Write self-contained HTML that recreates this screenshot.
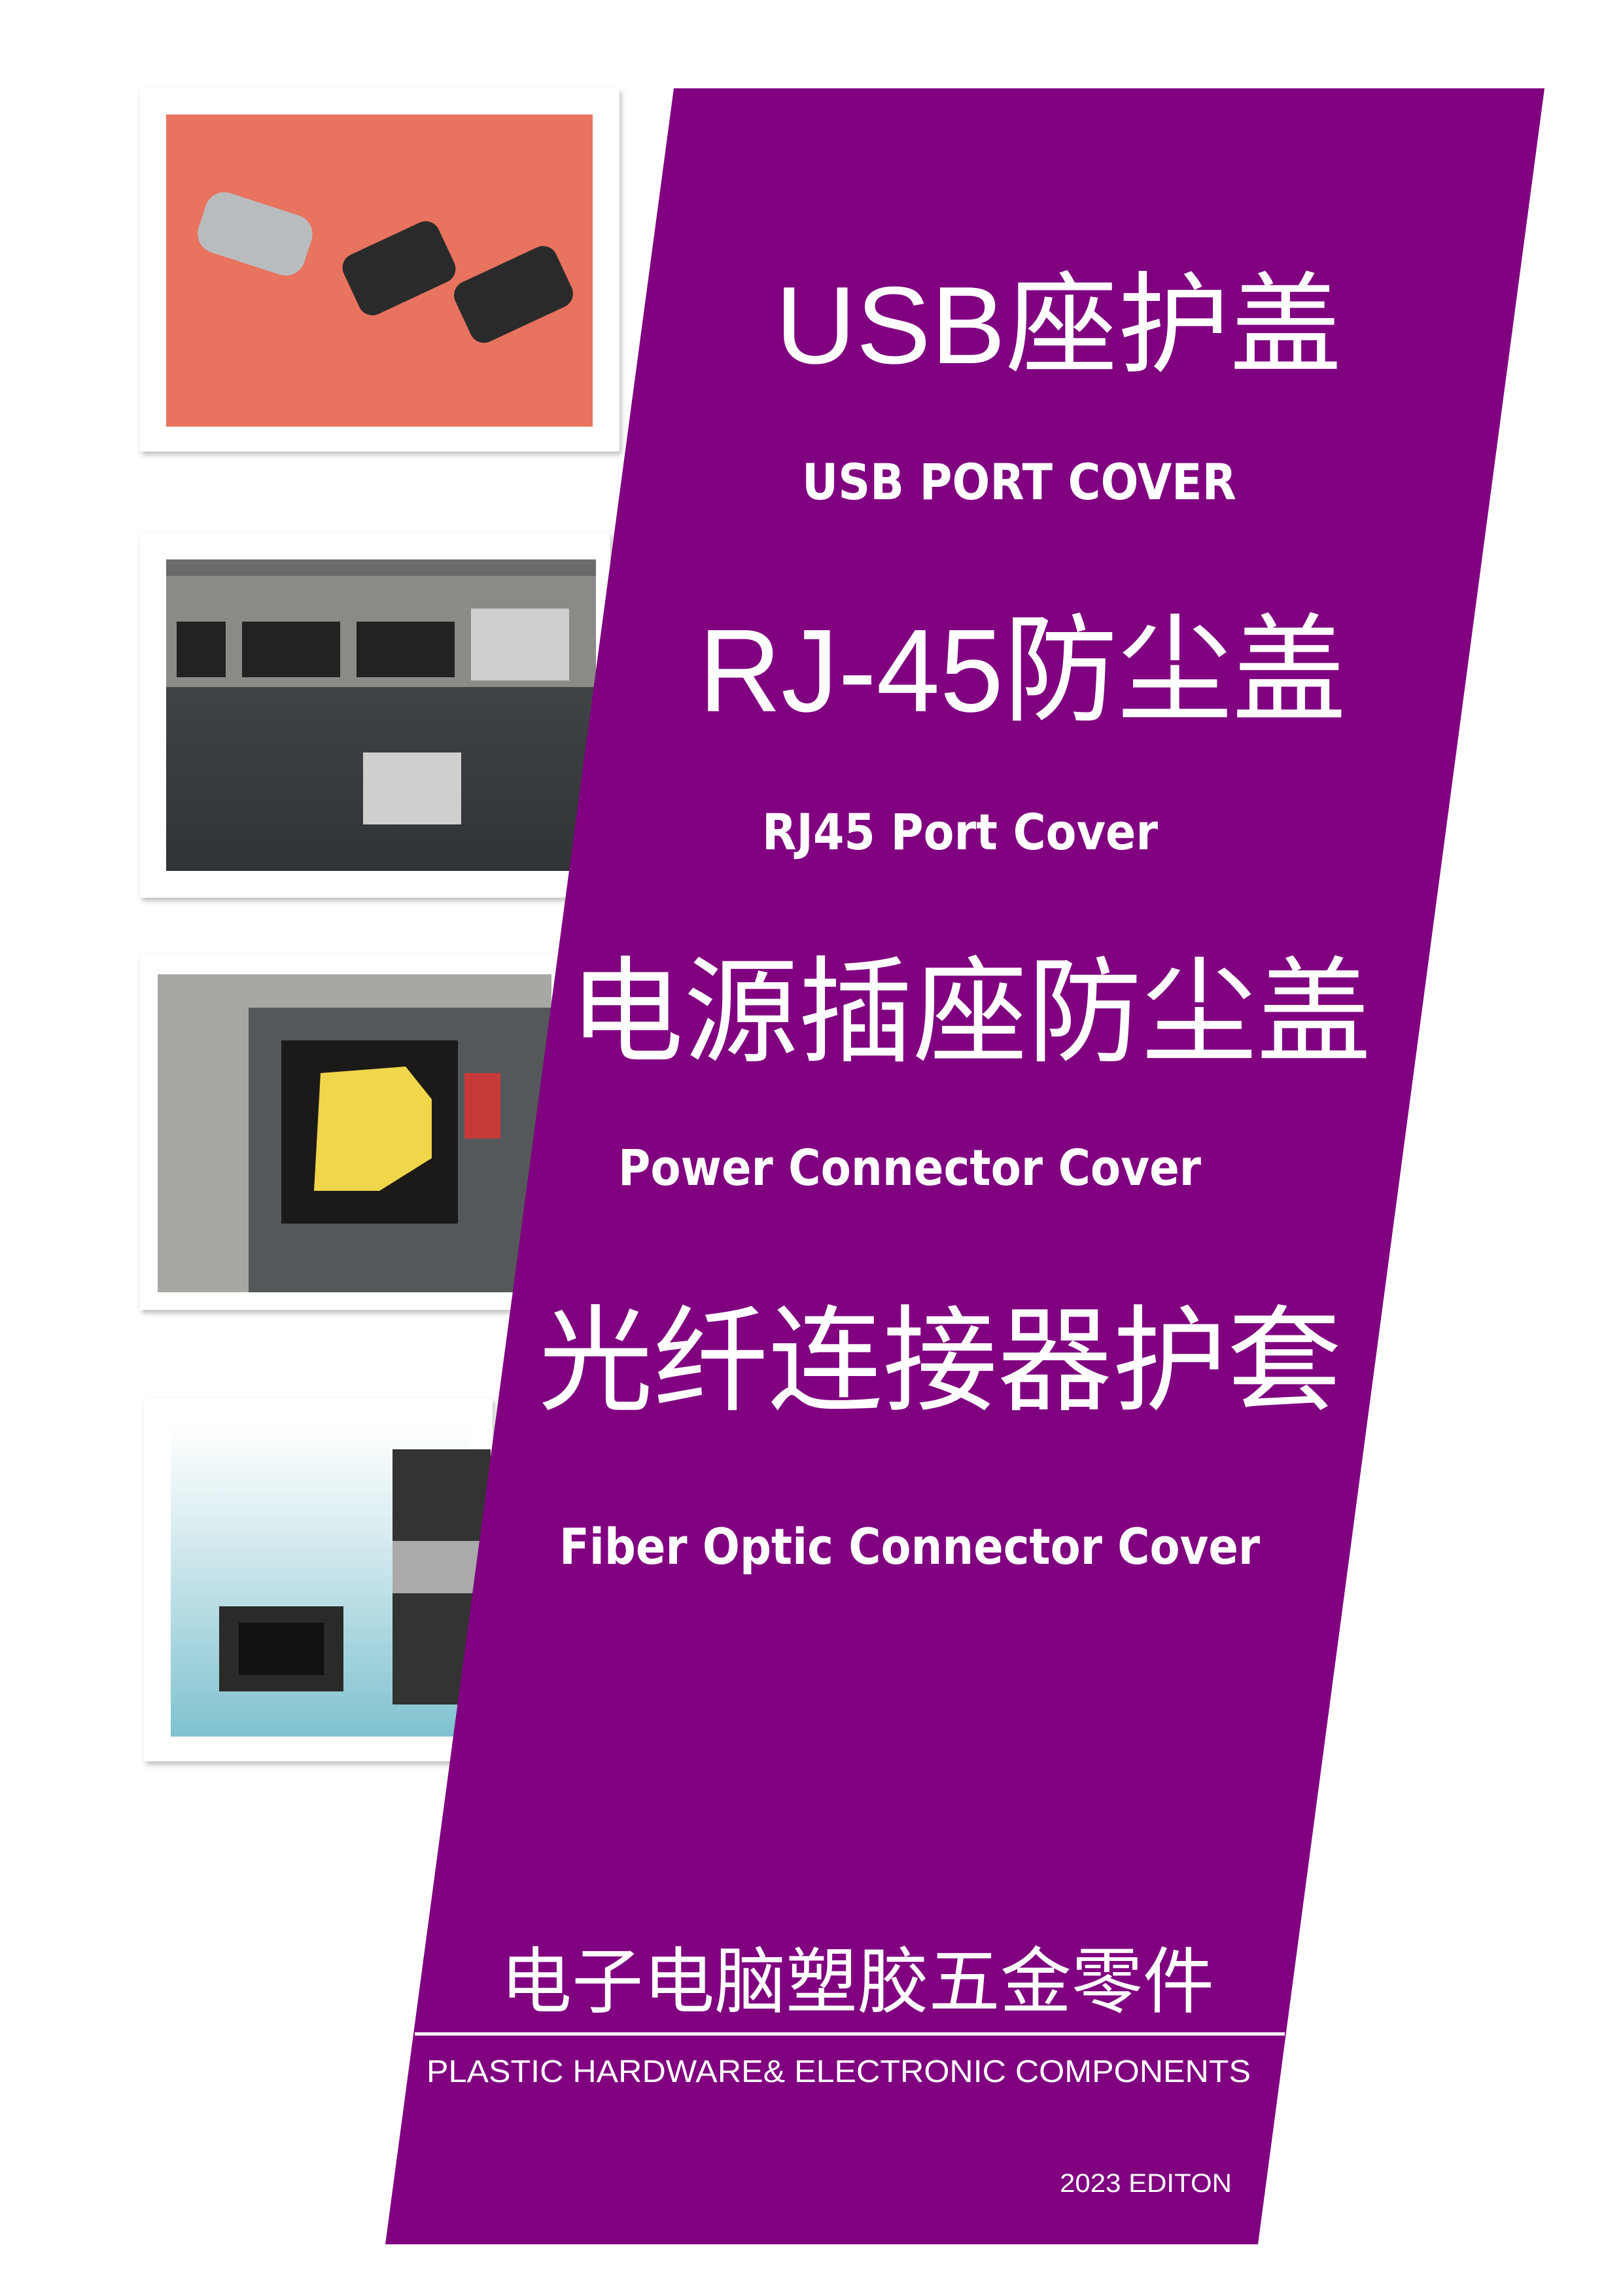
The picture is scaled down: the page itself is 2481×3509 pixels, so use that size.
<!DOCTYPE html>
<html><head><meta charset="utf-8"><style>
html,body{margin:0;padding:0;background:#fff;}
svg{display:block;}
text{fill:#fff;}
.cjk{font-family:"Liberation Sans","Noto Sans CJK SC",sans-serif;}
.b{font-family:"DejaVu Sans","Liberation Sans",sans-serif;font-weight:bold;}
.l{font-family:"Liberation Sans",sans-serif;}
</style></head><body>
<svg width="2481" height="3509" viewBox="0 0 2481 3509" xmlns="http://www.w3.org/2000/svg">
<defs>
<filter id="sh" x="-5%" y="-5%" width="110%" height="110%"><feDropShadow dx="3" dy="5" stdDeviation="4" flood-color="#000" flood-opacity="0.25"/></filter>
<linearGradient id="blue" x1="0" y1="0" x2="0" y2="1"><stop offset="0" stop-color="#ffffff"/><stop offset="0.35" stop-color="#d8ecf0"/><stop offset="1" stop-color="#7fc2cf"/></linearGradient>
<linearGradient id="rj" x1="0" y1="0" x2="0" y2="1"><stop offset="0" stop-color="#6d6e6c"/><stop offset="0.4" stop-color="#414446"/><stop offset="1" stop-color="#2f3335"/></linearGradient>
</defs>
<!-- Frames -->
<rect x="214" y="135" width="733" height="555" fill="#fff" filter="url(#sh)"/>
<rect x="254" y="175" width="652" height="477" fill="#e8735f"/>
<rect x="305" y="310" width="170" height="95" rx="30" fill="#b9bcbf" transform="rotate(18 390 357)"/>
<rect x="530" y="360" width="160" height="100" rx="22" fill="#2a2a2a" transform="rotate(-25 610 410)"/>
<rect x="700" y="400" width="170" height="100" rx="22" fill="#2a2a2a" transform="rotate(-25 785 450)"/>

<rect x="214" y="814" width="719" height="558" fill="#fff" filter="url(#sh)"/>
<rect x="254" y="855" width="657" height="476" fill="url(#rj)"/>
<rect x="254" y="880" width="657" height="170" fill="#8a8b87"/>
<rect x="270" y="950" width="75" height="85" fill="#222"/>
<rect x="370" y="950" width="150" height="85" fill="#222"/>
<rect x="545" y="950" width="150" height="85" fill="#222"/>
<rect x="720" y="930" width="150" height="110" fill="#cfd0ce"/>
<rect x="555" y="1150" width="150" height="110" fill="#cfd0ce"/>

<rect x="214" y="1457" width="663" height="545" fill="#fff" filter="url(#sh)"/>
<rect x="241" y="1489" width="602" height="486" fill="#a6a8a4"/>
<rect x="380" y="1540" width="463" height="435" fill="#55585a"/>
<rect x="430" y="1590" width="270" height="280" fill="#1c1a19"/>
<path d="M490 1640 L620 1630 L660 1680 L660 1770 L580 1820 L480 1820 Z" fill="#f0d64b"/>
<rect x="710" y="1640" width="55" height="100" fill="#c73a3a"/>

<rect x="220" y="2137" width="533" height="555" fill="#fff" filter="url(#sh)"/>
<rect x="261" y="2177" width="459" height="477" fill="url(#blue)"/>
<rect x="335" y="2455" width="190" height="130" fill="#2a2a2a"/>
<rect x="365" y="2480" width="130" height="80" fill="#111"/>
<rect x="600" y="2215" width="150" height="390" fill="#333"/>
<rect x="600" y="2355" width="150" height="80" fill="#aaa"/>

<!-- Purple band -->
<polygon points="1030,135 2361,135 1923,3430 589,3430" fill="#800080"/>

<!-- Text -->
<text class="cjk" x="1185" y="555" font-size="168" textLength="866" lengthAdjust="spacingAndGlyphs">USB座护盖</text>
<text class="b" x="1226" y="763" font-size="76" textLength="664" lengthAdjust="spacingAndGlyphs">USB PORT COVER</text>
<text class="cjk" x="1068" y="1087" font-size="180" textLength="990" lengthAdjust="spacingAndGlyphs">RJ-45防尘盖</text>
<text class="b" x="1165" y="1298" font-size="76" textLength="605" lengthAdjust="spacingAndGlyphs">RJ45 Port Cover</text>
<text class="cjk" x="870" y="1608" font-size="176" textLength="1226" lengthAdjust="spacingAndGlyphs">电源插座防尘盖</text>
<text class="b" x="945" y="1811" font-size="76" textLength="891" lengthAdjust="spacingAndGlyphs">Power Connector Cover</text>
<text class="cjk" x="823" y="2141" font-size="176" textLength="1228" lengthAdjust="spacingAndGlyphs">光纤连接器护套</text>
<text class="b" x="855" y="2390" font-size="76" textLength="1071" lengthAdjust="spacingAndGlyphs">Fiber Optic Connector Cover</text>
<text class="cjk" x="765" y="3067" font-size="110" textLength="1091" lengthAdjust="spacingAndGlyphs">电子电脑塑胶五金零件</text>
<rect x="634" y="3106" width="1330" height="5" fill="#fff"/>
<text class="l" x="652" y="3182" font-size="48" textLength="1260" lengthAdjust="spacingAndGlyphs">PLASTIC HARDWARE&amp; ELECTRONIC COMPONENTS</text>
<text class="l" x="1620" y="3350" font-size="40" textLength="263" lengthAdjust="spacingAndGlyphs">2023 EDITON</text>
</svg>
</body></html>
